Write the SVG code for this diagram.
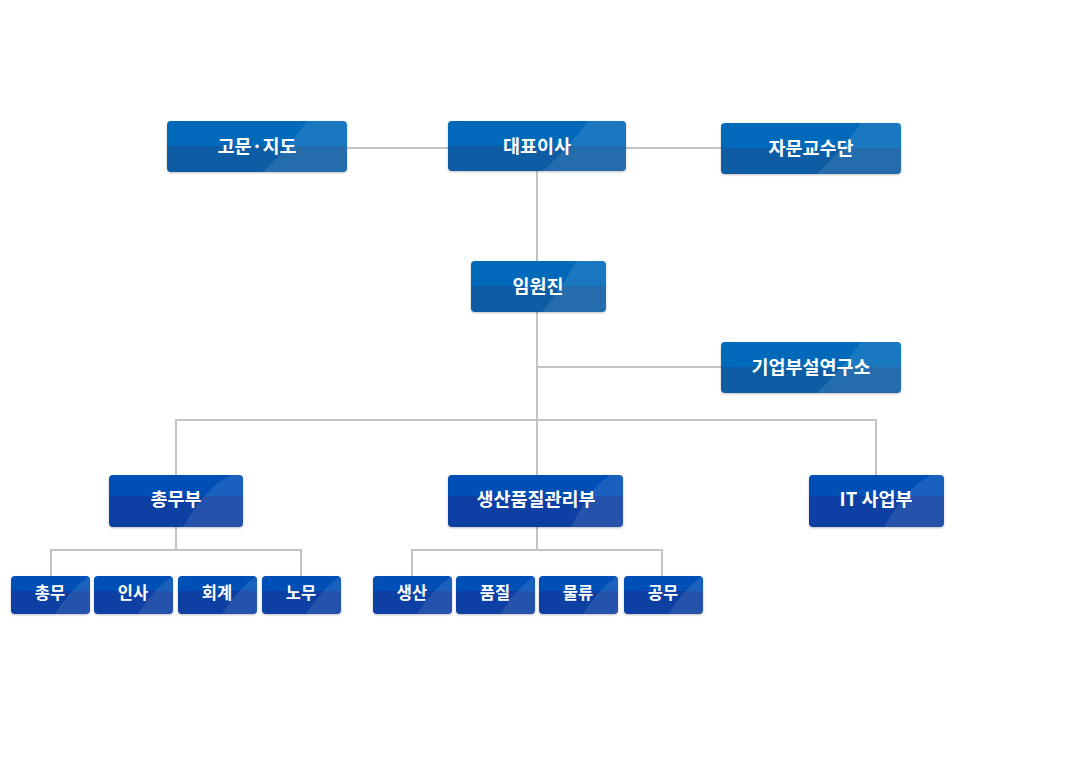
<svg xmlns="http://www.w3.org/2000/svg" width="1078" height="762" viewBox="0 0 1078 762">
<style>
.ln{stroke:#c4c4c4;stroke-width:2;fill:none}
.a{fill:url(#ga)}
.b{fill:url(#gb)}
.sh{filter:url(#sd)}
.ov{fill:#ffffff;fill-opacity:0.1}
.t{font-family:"Noto Sans CJK KR","Noto Sans",sans-serif;font-weight:bold;fill:#fff;text-anchor:middle}
.t1{font-size:18.5px}
.t2{font-size:16.5px}
</style>
<defs>
<linearGradient id="ga" x1="0" y1="0" x2="0" y2="1">
<stop offset="0" stop-color="#0669ba"/><stop offset="0.5" stop-color="#0669ba"/><stop offset="0.5" stop-color="#0a5ca4"/><stop offset="1" stop-color="#0a5ca4"/>
</linearGradient>
<linearGradient id="gb" x1="0" y1="0" x2="0" y2="1">
<stop offset="0" stop-color="#0650b6"/><stop offset="0.4" stop-color="#0650b6"/><stop offset="0.4" stop-color="#0a3fa2"/><stop offset="1" stop-color="#0a3fa2"/>
</linearGradient>
<filter id="sd" x="-10%" y="-20%" width="120%" height="150%">
<feDropShadow dx="0" dy="1" stdDeviation="1.2" flood-color="#000" flood-opacity="0.25"/>
</filter>
</defs>
<g id="connectors">
<path class="ln" d="M347 148H448M626 148H721"/>
<path class="ln" d="M537 171V261M537 312V475"/>
<path class="ln" d="M537 367H721"/>
<path class="ln" d="M176 475V420H876V475"/>
<path class="ln" d="M176 527V550M51 576V550H301V576"/>
<path class="ln" d="M537 527V550M412 576V550H662V576"/>
</g>
<g id="n-gomun"><rect class="a sh" x="167" y="121" width="180" height="51" rx="4"/><path class="ov" d="M307 121H343Q347 121 347 125V168Q347 172 343 172H263Q288 148 307 121Z"/><text class="t t1" x="257" y="153">고문·지도</text></g>
<g id="n-ceo"><rect class="a sh" x="448" y="121" width="178" height="50" rx="4"/><path class="ov" d="M588 121H622Q626 121 626 125V167Q626 171 622 171H543Q568 148 588 121Z"/><text class="t t1" x="537" y="153">대표이사</text></g>
<g id="n-jamun"><rect class="a sh" x="721" y="123" width="180" height="51" rx="4"/><path class="ov" d="M861 123H897Q901 123 901 127V170Q901 174 897 174H817Q842 150 861 123Z"/><text class="t t1" x="811" y="155">자문교수단</text></g>
<g id="n-exec"><rect class="a sh" x="471" y="261" width="135" height="51" rx="4"/><path class="ov" d="M576 261H602Q606 261 606 265V308Q606 312 602 312H542Q562 288 576 261Z"/><text class="t t1" x="538" y="293">임원진</text></g>
<g id="n-lab"><rect class="a sh" x="721" y="342" width="180" height="51" rx="4"/><path class="ov" d="M861 342H897Q901 342 901 346V389Q901 393 897 393H817Q842 369 861 342Z"/><text class="t t1" x="811" y="374">기업부설연구소</text></g>
<g id="n-chongmubu"><rect class="b sh" x="109" y="475" width="134" height="52" rx="4"/><path class="ov" d="M230 475H239Q243 475 243 479V523Q243 527 239 527H183Q205 488 230 475Z"/><text class="t t1" x="176" y="506">총무부</text></g>
<g id="n-prod"><rect class="b sh" x="448" y="475" width="175" height="52" rx="4"/><path class="ov" d="M610 475H619Q623 475 623 479V523Q623 527 619 527H571Q590 488 610 475Z"/><text class="t t1" x="536" y="506">생산품질관리부</text></g>
<g id="n-it"><rect class="b sh" x="809" y="475" width="135" height="52" rx="4"/><path class="ov" d="M931 475H940Q944 475 944 479V523Q944 527 940 527H884Q906 488 931 475Z"/><text class="t t1" x="876" y="506">IT 사업부</text></g>
<g id="n-chongmu"><rect class="b sh" x="11" y="576" width="79" height="38" rx="4"/><path class="ov" d="M88 577Q90 578 90 580V610Q90 614 86 614H55Q70 590 88 577Z"/><text class="t t2" x="50" y="599">총무</text></g>
<g id="n-insa"><rect class="b sh" x="94" y="576" width="79" height="38" rx="4"/><path class="ov" d="M171 577Q173 578 173 580V610Q173 614 169 614H138Q153 590 171 577Z"/><text class="t t2" x="133" y="599">인사</text></g>
<g id="n-hoegye"><rect class="b sh" x="178" y="576" width="79" height="38" rx="4"/><path class="ov" d="M255 577Q257 578 257 580V610Q257 614 253 614H222Q237 590 255 577Z"/><text class="t t2" x="217" y="599">회계</text></g>
<g id="n-nomu"><rect class="b sh" x="262" y="576" width="79" height="38" rx="4"/><path class="ov" d="M339 577Q341 578 341 580V610Q341 614 337 614H306Q321 590 339 577Z"/><text class="t t2" x="301" y="599">노무</text></g>
<g id="n-saengsan"><rect class="b sh" x="373" y="576" width="79" height="38" rx="4"/><path class="ov" d="M450 577Q452 578 452 580V610Q452 614 448 614H417Q432 590 450 577Z"/><text class="t t2" x="412" y="599">생산</text></g>
<g id="n-pumjil"><rect class="b sh" x="456" y="576" width="79" height="38" rx="4"/><path class="ov" d="M533 577Q535 578 535 580V610Q535 614 531 614H500Q515 590 533 577Z"/><text class="t t2" x="495" y="599">품질</text></g>
<g id="n-mulryu"><rect class="b sh" x="539" y="576" width="79" height="38" rx="4"/><path class="ov" d="M616 577Q618 578 618 580V610Q618 614 614 614H583Q598 590 616 577Z"/><text class="t t2" x="578" y="599">물류</text></g>
<g id="n-gongmu"><rect class="b sh" x="624" y="576" width="79" height="38" rx="4"/><path class="ov" d="M701 577Q703 578 703 580V610Q703 614 699 614H668Q683 590 701 577Z"/><text class="t t2" x="663" y="599">공무</text></g>
</svg>
